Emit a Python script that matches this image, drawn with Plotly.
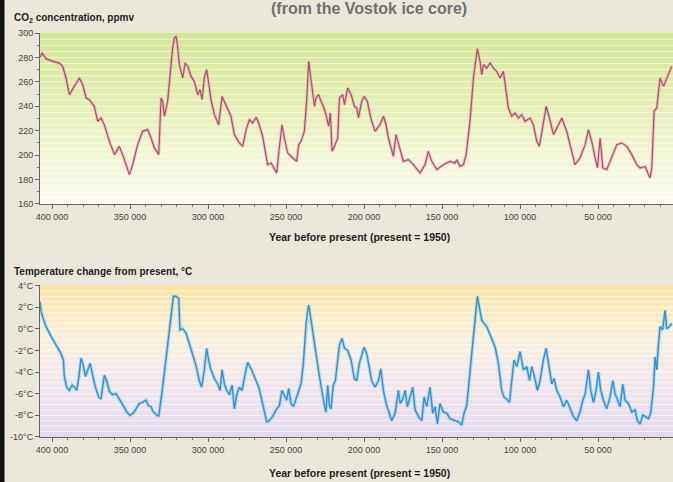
import plotly.graph_objects as go

# CO2 concentration (ppmv)
co2_years = [407700, 406400, 403800, 399600, 395300, 393200, 391000, 388900, 385700, 382500,
             380300, 378200, 376100, 372900, 370700, 368600, 366500, 363200, 360000, 356800,
             353600, 350400, 348300, 345100, 341900, 338700, 336500, 334400, 331600, 330100,
             329100, 328000, 325900, 323700, 322700, 321600, 320500, 319400, 318400, 316200,
             314700, 313000, 310900, 308800, 306600, 305100, 303800, 302400, 300900, 299600,
             298100, 295900, 293200, 291000, 289500, 287400, 285300, 283100, 279900, 277800,
             275600, 273500, 271400, 269200, 267500, 265000, 261800, 259600, 257500, 256000,
             254700, 253900, 252600, 251100, 248900, 245700, 243200, 241900, 240400, 238300,
             236800, 235500, 234000, 231800, 230800, 229100, 227600, 226100, 224400, 222700,
             221600, 220500, 219000, 216900, 215800, 213700, 212600, 210500, 208300, 206200,
             204700, 203600, 201500, 200000, 197900, 195700, 193000, 189800, 187600, 185900,
             184400, 182300, 181200, 179500, 177400, 174800, 171600, 168400, 164100, 160900,
             158800, 156600, 153400, 149200, 144900, 141700, 140600, 138500, 136300, 134600,
             132100, 129900, 128200, 127400, 125700, 124600, 123500, 121400, 119200, 117100,
             115000, 112800, 110700, 109600, 107500, 105400, 103200, 101100, 98900, 96800,
             93600, 91500, 89300, 87600, 85500, 83300, 81200, 78600, 75400, 73300,
             70100, 66900, 64800, 61600, 58300, 56200, 54100, 51900, 50400, 48700,
             47000, 44500, 41300, 38000, 34800, 31600, 28400, 25200, 23100, 19900,
             17700, 16700, 15600, 14100, 12400, 10300, 8100, 6000, 2800]
co2_ppmv = [280.1, 283.6, 279.0, 276.8, 275.4, 272.7, 263.2, 249.5, 256.3, 263.2,
            257.7, 246.8, 245.4, 240.0, 227.7, 230.4, 225.0, 211.3, 200.4, 207.2,
            196.3, 184.0, 192.2, 208.6, 219.5, 220.9, 214.0, 205.9, 200.4, 246.8,
            244.1, 231.8, 244.1, 276.8, 287.7, 295.9, 297.3, 287.7, 274.1, 263.2,
            275.4, 272.7, 264.5, 260.4, 249.5, 253.6, 245.4, 263.2, 270.0, 259.1,
            245.4, 233.1, 224.9, 248.1, 244.1, 238.6, 231.8, 216.8, 209.9, 207.2,
            220.9, 229.1, 226.3, 231.0, 226.3, 215.4, 192.2, 193.6, 188.1, 185.4,
            201.7, 211.3, 224.9, 214.0, 201.7, 197.7, 194.9, 208.6, 211.3, 219.5,
            244.1, 276.8, 263.2, 240.0, 246.8, 249.5, 244.1, 240.0, 233.1, 223.6,
            234.5, 203.1, 207.2, 214.0, 246.8, 249.5, 241.3, 255.0, 249.5, 240.0,
            238.6, 230.4, 244.1, 248.1, 244.1, 230.4, 219.5, 224.9, 231.8, 224.9,
            214.0, 203.1, 199.0, 216.8, 207.2, 194.9, 196.3, 192.2, 185.4, 192.2,
            203.1, 194.9, 188.1, 192.2, 194.9, 193.6, 196.3, 190.8, 192.2, 200.4,
            227.7, 263.2, 279.5, 287.2, 276.8, 265.9, 274.1, 271.3, 275.4, 271.3,
            268.6, 263.2, 268.6, 257.7, 238.6, 231.8, 234.5, 230.4, 233.1, 227.7,
            230.4, 224.9, 211.3, 207.2, 224.9, 240.0, 230.4, 216.8, 224.9, 230.4,
            219.5, 203.1, 192.2, 197.7, 208.6, 220.9, 211.3, 197.7, 189.5, 214.0,
            189.5, 188.1, 197.7, 208.6, 209.9, 207.2, 200.4, 192.2, 189.5, 190.8,
            184.0, 181.3, 189.5, 235.9, 238.6, 263.2, 256.3, 263.2, 272.7]

# Temperature change from present (deg C)
temp_years = [407700, 407100, 406000, 403800, 400600, 397400, 394200, 392700, 392100, 390600,
              388900, 387200, 385700, 384200, 382900, 381400, 379900, 378600, 377100, 375600,
              374400, 372200, 370100, 368600, 366500, 365000, 363200, 361100, 359000, 356800,
              354300, 352100, 350000, 347900, 346200, 344000, 341900, 339700, 338200, 336500,
              335000, 332900, 331600, 329100, 326500, 323700, 322200, 320500, 318800, 318000,
              316200, 314100, 312000, 309800, 307700, 305600, 304100, 302400, 300900, 299600,
              298100, 295900, 293800, 292300, 291000, 289500, 288000, 286300, 284600, 283100,
              281600, 279900, 278200, 276100, 274600, 272400, 270300, 267500, 266000, 263900,
              262400, 260700, 258600, 256400, 254300, 252600, 251100, 249600, 248300, 246800,
              245300, 243600, 241500, 240400, 238900, 237200, 236100, 235500, 234600, 232900,
              230800, 228600, 226900, 225400, 224400, 223300, 222200, 221200, 219700, 218400,
              216900, 215800, 214100, 212600, 210500, 208300, 206200, 204700, 203000, 201500,
              200000, 198300, 196600, 195100, 193000, 190800, 189300, 187600, 185900, 183800,
              182300, 180100, 178000, 176900, 175200, 173700, 172200, 170500, 168800, 167300,
              165200, 163000, 161500, 159800, 157700, 156000, 154500, 153000, 151300, 149200,
              147000, 144900, 141700, 139500, 137400, 135900, 134200, 132500, 131000, 129500,
              128200, 127400, 126100, 124600, 123100, 121400, 119700, 118200, 116000, 113900,
              111800, 110300, 108600, 106800, 105400, 103900, 102100, 100000, 97900, 95700,
              94000, 92500, 91000, 88900, 87200, 85100, 83300, 81800, 79700, 78200,
              76500, 74400, 72200, 70100, 68000, 65800, 63700, 61600, 59800, 58300,
              56200, 54700, 53000, 51300, 49800, 48300, 46600, 44500, 42300, 40600,
              39100, 37600, 35900, 34200, 32700, 30600, 28400, 26300, 24800, 23100,
              21400, 19900, 17700, 16300, 14500, 13500, 12400, 11300, 10300, 8600,
              7100, 6000, 4300, 2800]
temp_change = [2.5, 1.7, 1.1, 0.2, -0.7, -1.5, -2.3, -2.9, -4.4, -5.4,
               -5.7, -5.2, -5.4, -5.7, -4.6, -2.7, -3.4, -4.4, -3.8, -3.2,
               -4.0, -5.4, -6.3, -6.5, -4.3, -4.8, -5.8, -6.1, -6.0, -6.5,
               -7.1, -7.7, -8.0, -7.8, -7.4, -6.9, -6.8, -6.6, -7.1, -7.2,
               -7.7, -8.0, -8.1, -5.4, -2.3, 0.8, 3.0, 3.0, 2.8, -0.1,
               0.0, -0.4, -1.4, -2.3, -3.4, -4.8, -5.4, -3.8, -1.8, -2.9,
               -3.8, -4.6, -5.1, -5.7, -3.8, -5.1, -5.7, -6.1, -5.2, -7.4,
               -6.1, -5.4, -5.7, -4.1, -3.1, -3.7, -4.4, -5.4, -6.3, -7.7,
               -8.6, -8.5, -8.1, -7.5, -7.1, -5.7, -6.1, -6.6, -5.5, -6.9,
               -7.2, -6.5, -5.7, -5.1, -3.2, 0.5, 1.7, 2.2, 1.4, -0.4,
               -2.3, -4.4, -6.0, -7.1, -7.7, -5.2, -7.1, -7.4, -5.2, -4.8,
               -2.9, -1.5, -0.9, -1.8, -2.0, -2.9, -4.6, -4.8, -3.2, -2.4,
               -1.7, -2.3, -3.8, -4.8, -5.4, -4.8, -3.7, -5.7, -6.9, -7.8,
               -8.5, -7.8, -5.7, -6.9, -6.5, -5.7, -7.2, -6.3, -5.4, -7.5,
               -8.1, -8.5, -6.3, -7.2, -5.4, -7.8, -7.2, -8.8, -6.9, -7.7,
               -7.8, -8.3, -8.5, -8.6, -8.9, -7.8, -7.1, -4.8, -2.3, -0.1,
               1.7, 3.0, 2.0, 0.8, 0.5, 0.2, -0.4, -0.9, -1.7, -3.2,
               -5.7, -6.3, -6.5, -6.8, -4.8, -2.9, -3.5, -2.1, -3.8, -3.5,
               -4.8, -3.5, -4.3, -5.7, -4.8, -2.9, -1.8, -3.1, -5.1, -4.6,
               -5.7, -6.3, -7.2, -6.6, -7.4, -8.1, -8.5, -7.7, -6.6, -6.0,
               -3.8, -5.7, -6.8, -5.7, -4.0, -5.7, -6.6, -7.4, -6.3, -4.8,
               -6.0, -6.6, -7.2, -5.1, -6.6, -6.9, -7.7, -7.5, -8.5, -8.8,
               -8.0, -8.1, -8.3, -7.8, -5.4, -2.6, -3.8, -1.4, 0.2, -0.1,
               1.7, 0.0, 0.2, 0.5]

year_ticks = [400000, 350000, 300000, 250000, 200000, 150000, 100000, 50000]
year_tick_labels = ["400 000", "350 000", "300 000", "250 000", "200 000", "150 000", "100 000", "50 000"]
co2_ticks = [160, 180, 200, 220, 240, 260, 280, 300]
temp_ticks = [4, 2, 0, -2, -4, -6, -8, -10]
temp_tick_labels = ["4°C", "2°C", "0°C", "-2°C", "-4°C", "-6°C", "-8°C", "-10°C"]

FONT = "Liberation Sans, Arial, sans-serif"
BG = "#ebe7da"


def blend(stops, v):
    # linear colour ramp between (value, (r, g, b)) stops
    for (v0, c0), (v1, c1) in zip(stops, stops[1:]):
        if v0 <= v <= v1:
            t = (v - v0) / (v1 - v0)
            r, g, b = [round(a + (b_ - a) * t) for a, b_ in zip(c0, c1)]
            return f"rgb({r},{g},{b})"
    return "rgb(255,255,255)"


def band_shapes(yref, lo, hi, n, stops, grid_step):
    shapes = []
    xref = yref.replace("y", "x") + " domain"
    step = (hi - lo) / n
    for i in range(n):
        y0 = lo + i * step
        shapes.append(dict(type="rect", xref=xref, yref=yref, x0=0, x1=1, y0=y0, y1=y0 + step,
                           fillcolor=blend(stops, y0 + step / 2), line_width=0, layer="below"))
    v = lo + grid_step
    while v < hi - 1e-9:
        shapes.append(dict(type="line", xref=xref, yref=yref, x0=0, x1=1, y0=v, y1=v,
                           line=dict(color="rgba(255,255,255,0.6)", width=1), layer="below"))
        v += grid_step
    return shapes


co2_stops = [(160, (251, 251, 240)), (190, (245, 247, 222)), (230, (232, 241, 188)),
             (270, (220, 235, 162)), (300, (211, 230, 146))]
temp_stops = [(-10, (228, 217, 240)), (-7, (236, 225, 238)), (-4, (244, 233, 234)),
              (-1, (249, 239, 220)), (2, (250, 234, 190)), (4, (250, 226, 158))]

fig = go.Figure()

fig.add_trace(go.Scatter(x=co2_years, y=co2_ppmv, mode="lines", xaxis="x", yaxis="y",
                         line=dict(color="rgba(236,160,180,0.55)", width=3.2), hoverinfo="skip"))
fig.add_trace(go.Scatter(x=co2_years, y=co2_ppmv, mode="lines", xaxis="x", yaxis="y",
                         line=dict(color="#a4506a", width=1.2)))
fig.add_trace(go.Scatter(x=temp_years, y=temp_change, mode="lines", xaxis="x2", yaxis="y2",
                         line=dict(color="rgba(140,205,240,0.6)", width=3.6), hoverinfo="skip"))
fig.add_trace(go.Scatter(x=temp_years, y=temp_change, mode="lines", xaxis="x2", yaxis="y2",
                         line=dict(color="#3a8fc8", width=1.4)))

axis_common = dict(showline=True, linecolor="#666", linewidth=1, showgrid=False, zeroline=False,
                   ticks="outside", ticklen=4, tickcolor="#666", automargin=False,
                   tickfont=dict(family=FONT, size=9, color="#444"))

x_common = dict(axis_common, range=[407700, 2000], tickvals=year_ticks, ticktext=year_tick_labels,
                minor=dict(dtick=10000, tick0=0, ticks="outside", ticklen=2, tickcolor="#777"))

fig.update_layout(
    width=673,
    height=482,
    margin=dict(l=40, r=0, t=0, b=0),
    paper_bgcolor=BG,
    plot_bgcolor=BG,
    showlegend=False,
    font=dict(family=FONT, color="#222"),
    xaxis=dict(x_common, anchor="y", domain=[0, 1]),
    yaxis=dict(axis_common, anchor="x", domain=[0.5768, 0.9315], range=[160, 300],
               tickvals=co2_ticks, minor=dict(dtick=10, ticks="outside", ticklen=2, tickcolor="#777")),
    xaxis2=dict(x_common, anchor="y2", domain=[0, 1]),
    yaxis2=dict(axis_common, anchor="x2", domain=[0.0934, 0.4077], range=[-10, 4],
                tickvals=temp_ticks, ticktext=temp_tick_labels),
    shapes=band_shapes("y", 160, 300, 56, co2_stops, 5)
    + band_shapes("y2", -10, 4, 56, temp_stops, 0.5)
    + [dict(type="rect", xref="paper", yref="paper", x0=-40 / 633, x1=-36 / 633, y0=0, y1=1,
            fillcolor="#111", line=dict(color="#111", width=1))],
)

annotations = [
    dict(text="(from the Vostok ice core)", x=369, y=8, size=16, color="#707070"),
    dict(text="CO<sub>2</sub> concentration, ppmv", x=12, y=18, anchor="left", size=10, color="#1e1e1e"),
    dict(text="Year before present (present = 1950)", x=359, y=237, size=10.5, color="#1e1e1e"),
    dict(text="Temperature change from present, °C", x=12, y=271, anchor="left", size=10, color="#1e1e1e"),
    dict(text="Year before present (present = 1950)", x=359, y=473, size=10.5, color="#1e1e1e"),
]
for a in annotations:
    fig.add_annotation(text=f"<b>{a['text']}</b>", xref="paper", yref="paper",
                       x=(a["x"] - 40) / 633, y=1 - a["y"] / 482,
                       xanchor=a.get("anchor", "center"), yanchor="middle", showarrow=False,
                       font=dict(family=FONT, size=a["size"], color=a["color"]))

# the page's default 8px body margin would shift the whole figure
fig.write_html("out.html", config={"displayModeBar": False},
               post_script="document.body.style.margin='0';")
